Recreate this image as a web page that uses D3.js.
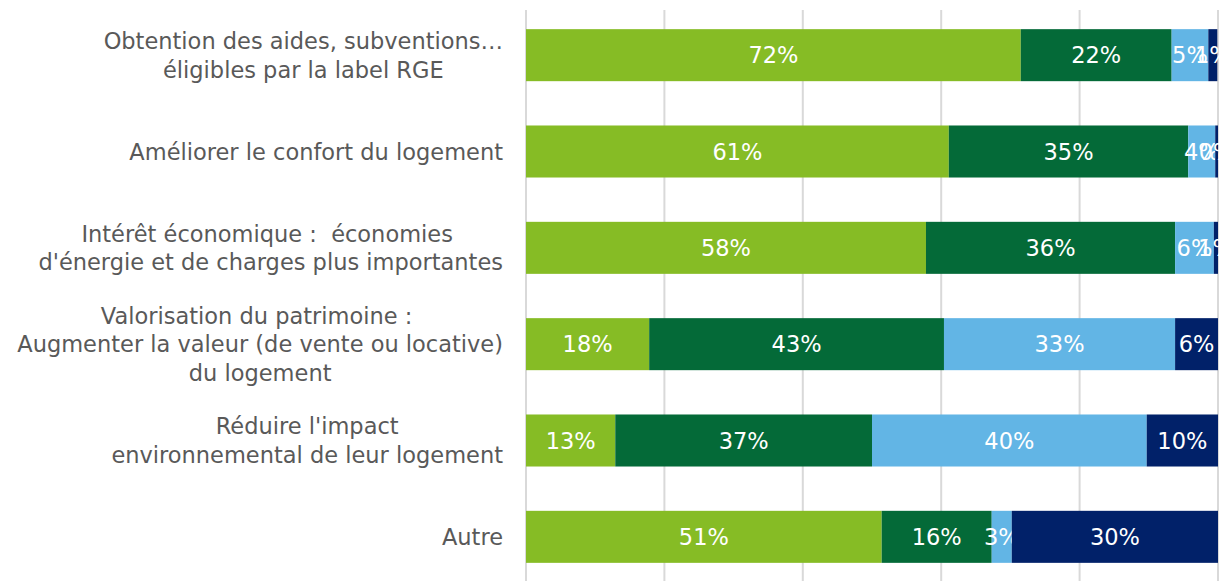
<!DOCTYPE html>
<html><head><meta charset="utf-8">
<script src="https://cdn.jsdelivr.net/npm/d3@7"></script>
<style>
html,body{margin:0;padding:0;background:#fff;}
svg{display:block;font-family:"DejaVu Sans",Verdana,sans-serif;}
</style></head>
<body>
<svg id="chart" width="1223" height="581"></svg>
<script>
const categories = [
  ["Obtention des aides, subventions…", "éligibles par la label RGE"],
  ["Améliorer le confort du logement"],
  ["Intérêt économique :  économies ", "d'énergie et de charges plus importantes"],
  ["Valorisation du patrimoine : ", "Augmenter la valeur (de vente ou locative)", "du logement"],
  ["Réduire l'impact", "environnemental de leur logement"],
  ["Autre"]
];
const seriesNames = ["Très important", "Important", "Peu important", "Pas du tout important"];
const s1 = [71.5, 61.1, 57.8, 17.8, 12.9, 51.4];
const s2 = [21.8, 34.6, 36.0, 42.6, 37.1, 15.9];
const s3 = [5.3, 3.9, 5.6, 33.4, 39.7, 2.9];
const s4 = [1.3, 0.4, 0.6, 6.2, 10.3, 29.8];
const colors = ["#86bc25", "#046a38", "#62b5e5", "#012169"];
const xTicks = [0, 20, 40, 60, 80, 100];

const svg = d3.select("#chart");
const series = [s1, s2, s3, s4];
const rows = categories.map((c, i) => {
  const o = {i};
  series.forEach((s, k) => o["k" + k] = s[i]);
  return o;
});
const stack = d3.stack().keys(["k0","k1","k2","k3"])(rows);

const x = d3.scaleLinear().domain([0, 100]).range([526, 1218]);
const y = d3.scaleBand().domain(d3.range(categories.length)).range([7, 585]).paddingInner(0.46).paddingOuter(0.23);

// gridlines
svg.append("g").selectAll("line").data(xTicks).join("line")
  .attr("x1", d => x(d)).attr("x2", d => x(d))
  .attr("y1", 10).attr("y2", 590)
  .attr("stroke", "#d9d9d9").attr("stroke-width", 2);

// bars
const layers = svg.append("g").selectAll("g").data(stack).join("g")
  .attr("fill", (d, k) => colors[k]);
layers.selectAll("rect").data(d => d).join("rect")
  .attr("x", d => x(d[0]))
  .attr("width", d => x(d[1]) - x(d[0]))
  .attr("y", d => y(d.data.i))
  .attr("height", y.bandwidth());

// value labels
layers.selectAll("text").data(d => d).join("text")
  .attr("x", d => (x(d[0]) + x(d[1])) / 2)
  .attr("y", d => y(d.data.i) + y.bandwidth() / 2)
  .attr("dy", "0.36em")
  .attr("text-anchor", "middle")
  .attr("fill", "#fff")
  .attr("font-size", 22.5)
  .text(d => Math.round(d[1] - d[0]) + "%");

// category labels
const lineH = 28.5;
const labelRight = 503;
categories.forEach((lines, i) => {
  const g = svg.append("g");
  const cy = y(i) + y.bandwidth() / 2;
  const texts = lines.map((l, j) => g.append("text")
    .attr("font-size", 22.5)
    .attr("fill", "#595959")
    .attr("text-anchor", "middle")
    .style("white-space", "pre")
    .attr("y", cy + (j - (lines.length - 1) / 2) * lineH)
    .attr("dy", "0.36em")
    .text(l));
  const widths = texts.map(t => t.node().getComputedTextLength());
  const w = d3.max(widths);
  texts.forEach(t => t.attr("x", labelRight - w / 2));
});
</script>
</body></html>
